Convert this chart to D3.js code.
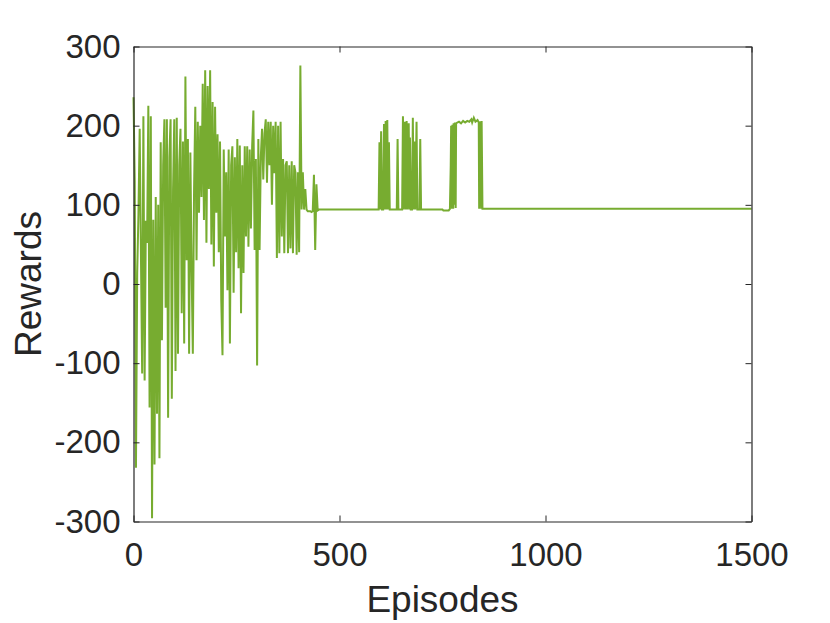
<!DOCTYPE html>
<html>
<head>
<meta charset="utf-8">
<script src="https://cdnjs.cloudflare.com/ajax/libs/d3/7.8.5/d3.min.js"></script>
<style>
  body { margin: 0; background: #fff; }
  svg text { font-family: "Liberation Sans", Arial, Helvetica, sans-serif; fill: #262626; }
</style>
</head>
<body>
<svg id="chart" width="830" height="623"></svg>
<script>
  // rewards for the first episodes, one value every 3 episodes (0, 3, 6, ...)
  var earlyStep = 3;
  var earlyRewards = [
    236, 130, -232, 14, 88, 196, 40, -113, 212, -122,
    80, 52, 225, -156, 212, -296, 81, -228, 110, -164,
    100, -220, 179, -71, 150, 208, -30, 208, -169, 160,
    208, -145, 120, 208, -110, 210, -88, 150, 196, -37,
    180, -75, 262, 30, 183, -88, 166, 20, -88, 120,
    224, 30, 205, 90, 200, 110, 253, 81, 270, 52,
    250, 120, 270, 50, 230, 22, 224, 90, 189, 40,
    180, -20, -90, 170, 60, 141, -8, 170, -75, 150,
    174, -11, 160, 40, 183, 20, 175, -37, 150, 14,
    174, 60, 174, 47, 170, 70, 174, 219, 43, 158,
    -103, 183, 43, 160, 196, 132, 190, 208, 128, 205,
    150, 205, 100, 200, 140, 205, 33, 200, 39, 205,
    60, 158, 39, 150, 155, 39, 150, 45, 155, 39,
    150, 141, 37, 141, 40, 276, 94, 141, 94, 120,
    94, 92, 92, 92, 91, 92, 138, 43, 126, 93
  ];

  // later episodes: mostly flat, given as break points
  var lateEpisodes = [
    450, 595, 597, 599, 601, 603, 606, 608, 610, 612,
    614, 616, 618, 620, 622, 639, 641, 643, 652, 654,
    656, 659, 661, 663, 665, 668, 670, 671, 673, 676,
    678, 680, 682, 684, 687, 689, 694, 696, 698, 750,
    752, 765, 768, 770, 771, 773, 774, 776, 777, 779,
    780, 782, 783, 786, 790, 795, 800, 805, 810, 815,
    820, 822, 826, 830, 835, 838, 839, 840, 842, 844,
    845, 847, 1500
  ];
  var lateRewards = [
    94, 94, 179, 94, 193, 94, 94, 202, 94, 206,
    94, 207, 94, 179, 94, 94, 183, 94, 94, 212,
    94, 205, 94, 206, 94, 203, 94, 185, 94, 94,
    210, 94, 180, 94, 205, 94, 94, 183, 94, 94,
    93, 93, 95, 150, 200, 95, 201, 95, 203, 100,
    204, 96, 203, 204, 205, 203, 206, 204, 206, 205,
    208, 204, 210, 205, 207, 204, 95, 205, 203, 95,
    206, 95, 95
  ];

  var xTicks = [0, 500, 1000, 1500];
  var yTicks = [-300, -200, -100, 0, 100, 200, 300];

  var data = [];
  earlyRewards.forEach(function(r, i){ data.push([i*earlyStep, r]); });
  lateEpisodes.forEach(function(e, i){ data.push([e, lateRewards[i]]); });

  var plotLeft = 133.5, plotRight = 751.5, plotTop = 46.5, plotBottom = 521.5;
  var x = d3.scaleLinear().domain([0, 1500]).range([plotLeft, plotRight]);
  var y = d3.scaleLinear().domain([-300, 300]).range([plotBottom, plotTop]);

  var svg = d3.select("#chart");

  // data line first, axes drawn over it
  svg.append("path")
    .datum(data)
    .attr("fill", "none")
    .attr("stroke", "#77AC30")
    .attr("stroke-width", 2)
    .attr("d", d3.line().x(function(d){ return x(d[0]); }).y(function(d){ return y(d[1]); }));

  var tickLen = 6;
  var axisColor = "#262626";
  var plainNum = function(d){ return String(d); };  // keep "-100" with a hyphen, no thousands comma

  function styleAxis(g){
    g.select(".domain").attr("stroke", axisColor).attr("stroke-width", 1.2);
    g.selectAll(".tick line").attr("stroke", axisColor).attr("stroke-width", 1);
    g.selectAll(".tick text").attr("font-size", "33px").attr("fill", "#262626");
  }

  // bottom axis, ticks pointing inwards
  svg.append("g")
    .attr("transform", "translate(0," + plotBottom + ")")
    .call(d3.axisBottom(x).tickValues(xTicks).tickFormat(plainNum).tickSizeInner(-tickLen).tickSizeOuter(0).tickPadding(21))
    .call(styleAxis);

  svg.append("g")
    .attr("transform", "translate(0," + plotTop + ")")
    .call(d3.axisTop(x).tickValues(xTicks).tickSizeInner(-tickLen).tickSizeOuter(0).tickFormat(""))
    .call(styleAxis);

  svg.append("g")
    .attr("transform", "translate(" + plotLeft + ",0)")
    .call(d3.axisLeft(y).tickValues(yTicks).tickFormat(plainNum).tickSizeInner(-tickLen).tickSizeOuter(0).tickPadding(13))
    .call(styleAxis);

  svg.append("g")
    .attr("transform", "translate(" + plotRight + ",0)")
    .call(d3.axisRight(y).tickValues(yTicks).tickSizeInner(-tickLen).tickSizeOuter(0).tickFormat(""))
    .call(styleAxis);

  svg.append("text")
    .attr("x", (plotLeft + plotRight) / 2)
    .attr("y", 612)
    .attr("text-anchor", "middle")
    .attr("font-size", "37px")
    .text("Episodes");

  svg.append("text")
    .attr("transform", "translate(41," + ((plotTop + plotBottom) / 2) + ") rotate(-90)")
    .attr("text-anchor", "middle")
    .attr("font-size", "37px")
    .text("Rewards");
</script>
</body>
</html>
